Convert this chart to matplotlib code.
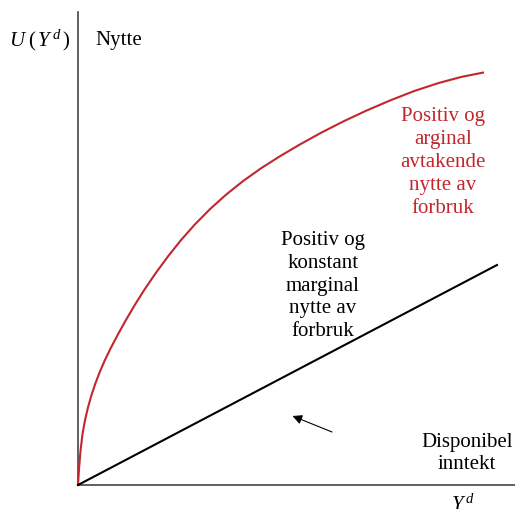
import matplotlib
matplotlib.use("Agg")
import matplotlib.pyplot as plt

plt.rcParams['font.family'] = ['Liberation Serif', 'DejaVu Serif']
plt.rcParams['mathtext.fontset'] = 'custom'
plt.rcParams['mathtext.rm'] = 'Liberation Serif'
plt.rcParams['mathtext.it'] = 'Liberation Serif:italic'

# red curve: concave utility (arbitrary units)
inc_red = [0, 1, 2.5, 4.5, 7, 10, 13.5, 17.5, 22, 27, 33, 40, 48, 57, 67, 78,
           90, 103, 117, 132, 148, 165, 183, 202, 222, 243, 265, 288, 312,
           336, 360, 383, 405]
util_red = [0, 16, 34, 51, 64.75, 77.65, 89.9, 101.9, 113.6, 125.1, 137.4,
            150.7, 165.1, 180.4, 196.2, 212.3, 228.6, 244.9, 260.7, 275.9,
            290.3, 303.9, 316.7, 328.8, 340.6, 352.2, 363.4, 374.2, 384.5,
            393.9, 401.8, 408.0, 412.4]

# black line: constant marginal utility
inc_lin = [0, 419]
util_lin = [0, 220]

red = '#c1272d'

fig = plt.figure(figsize=(5.15, 5.09), dpi=100)
ax = fig.add_axes([78/515, 24/509, 437/515, 473/509])
ax.set_xlim(0, 437)
ax.set_ylim(0, 473)
ax.axis('off')

# axes lines
ax.plot([0, 0], [0, 473], color='#444444', lw=1.2, clip_on=False)
ax.plot([0, 437], [0, 0], color='#444444', lw=1.2, clip_on=False)

ax.plot(inc_red, util_red, color=red, lw=1.5, clip_on=False)
ax.plot(inc_lin, util_lin, color='black', lw=1.5, clip_on=False)

fs = 15
ls = 1.28
ax.text(-38, 445, r'$U\;(\,Y^{\,d}\,)$', fontsize=fs, ha='center', va='center')
ax.text(17, 445, 'Nytte', fontsize=fs, ha='left', va='center')
ax.text(365, 322.5, 'Positiv og\narginal\navtakende\nnytte av\nforbruk',
        fontsize=fs, color=red, ha='center', va='center', linespacing=ls)
ax.text(245, 199, 'Positiv og\nkonstant\nmarginal\nnytte av\nforbruk',
        fontsize=fs, color='black', ha='center', va='center', linespacing=ls)
ax.text(389, 31.5, 'Disponibel\ninntekt', fontsize=fs, ha='center', va='center',
        linespacing=ls)
ax.text(385, -20, r'$Y^{\,d}$', fontsize=fs, ha='center', va='center')

ax.annotate('', xy=(214.5, 69), xytext=(254, 53),
            arrowprops=dict(arrowstyle='-|>', lw=0.8, color='black',
                            mutation_scale=14, shrinkA=0, shrinkB=0))

fig.savefig('out.png', dpi=100)
